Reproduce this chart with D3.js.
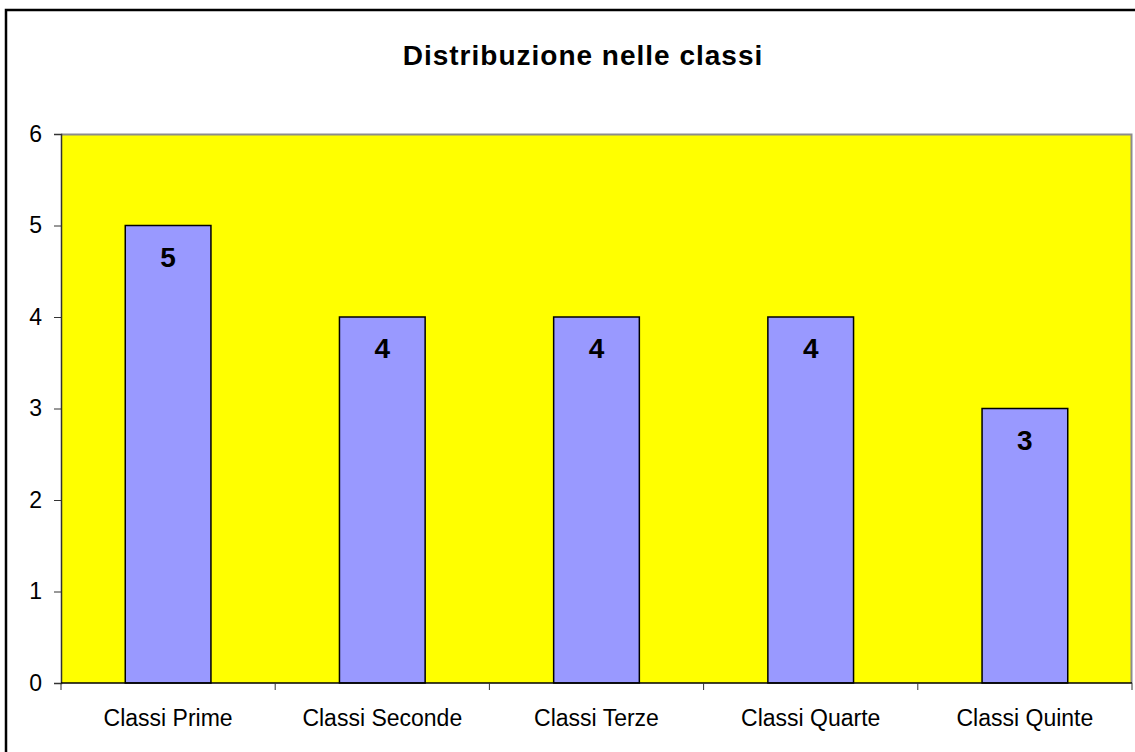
<!DOCTYPE html>
<html>
<head>
<meta charset="utf-8">
<script src="https://cdn.jsdelivr.net/npm/d3@7"></script>
<style>
  body { margin: 0; background: #fff; }
  text { font-family: "Liberation Sans", Arial, sans-serif; }
</style>
</head>
<body>
<div class="svg"></div>
<script>
var categories = ["Classi Prime", "Classi Seconde", "Classi Terze", "Classi Quarte", "Classi Quinte"];
var values = [5, 4, 4, 4, 3];
var yTicks = [0, 1, 2, 3, 4, 5, 6];
var title = "Distribuzione nelle classi";

var w = 1135;
var h = 752;
var margin = { top: 134, bottom: 69, left: 61, right: 3 };
var width = w - margin.left - margin.right;
var height = h - margin.top - margin.bottom;

var svg = d3.select(".svg").append("svg").attr("width", w).attr("height", h);

// outer frame (runs off the right and bottom edges)
svg.append("rect")
   .attr("x", 6).attr("y", 10)
   .attr("width", w + 10).attr("height", h + 10)
   .attr("fill", "#fff").attr("stroke", "#000").attr("stroke-width", 2.5);

svg.append("text")
   .attr("x", 583).attr("y", 65)
   .attr("text-anchor", "middle")
   .style("font-size", "28px").style("font-weight", "bold")
   .style("letter-spacing", "1px")
   .text(title);

var chart = svg.append("g")
  .attr("transform", "translate(" + margin.left + "," + margin.top + ")");

var xScale = d3.scaleBand().domain(categories).range([0, width]).paddingInner(0.6).paddingOuter(0.3);
var xOuter = d3.scaleBand().domain(categories).range([0, width]);
var yScale = d3.scaleLinear().domain([0, 6]).range([height, 0]);

// plot area
chart.append("rect")
     .attr("width", width).attr("height", height)
     .attr("fill", "#ffff00");
chart.append("path")
     .attr("d", "M0,0.5H" + (width - 0.5) + "V" + height)
     .attr("fill", "none").attr("stroke", "#8c8c8c").attr("stroke-width", 2);

// bars
chart.selectAll(".bar")
     .data(values)
     .enter()
     .append("rect")
     .attr("class", "bar")
     .attr("x", function(d, i) { return xScale(categories[i]); })
     .attr("y", function(d) { return yScale(d); })
     .attr("width", xScale.bandwidth())
     .attr("height", function(d) { return height - yScale(d); })
     .attr("fill", "#9999ff")
     .attr("stroke", "#000").attr("stroke-width", 1.5);

chart.selectAll(".lbl")
     .data(values)
     .enter()
     .append("text")
     .attr("class", "lbl")
     .attr("x", function(d, i) { return xScale(categories[i]) + xScale.bandwidth() / 2; })
     .attr("y", function(d) { return yScale(d) + 41; })
     .attr("text-anchor", "middle")
     .style("font-size", "28px").style("font-weight", "bold")
     .text(function(d) { return d; });

// y axis
var yAxis = d3.axisLeft(yScale).tickValues(yTicks).tickFormat(d3.format("d")).tickSize(7).tickPadding(12);
var gy = chart.append("g").attr("class", "y axis").call(yAxis);
gy.select(".domain").attr("stroke", "#333").attr("stroke-width", 1.5);
gy.selectAll(".tick line").attr("stroke", "#333");
gy.selectAll("text").style("font-size", "23px").attr("fill", "#000");

// x axis with ticks at category boundaries
var gx = chart.append("g").attr("class", "x axis")
  .attr("transform", "translate(0," + height + ")");
gx.append("line").attr("x1", 0).attr("x2", width).attr("stroke", "#000").attr("stroke-width", 1.5);
var bounds = categories.map(function(c) { return xOuter(c); }).concat([width]);
gx.selectAll(".tk").data(bounds).enter().append("line")
  .attr("x1", function(d) { return d; }).attr("x2", function(d) { return d; })
  .attr("y1", 0).attr("y2", 7).attr("stroke", "#333");
gx.selectAll(".xl").data(categories).enter().append("text")
  .attr("x", function(c) { return xOuter(c) + xOuter.bandwidth() / 2; })
  .attr("y", 43)
  .attr("text-anchor", "middle")
  .style("font-size", "23px")
  .text(function(c) { return c; });
</script>
</body>
</html>
